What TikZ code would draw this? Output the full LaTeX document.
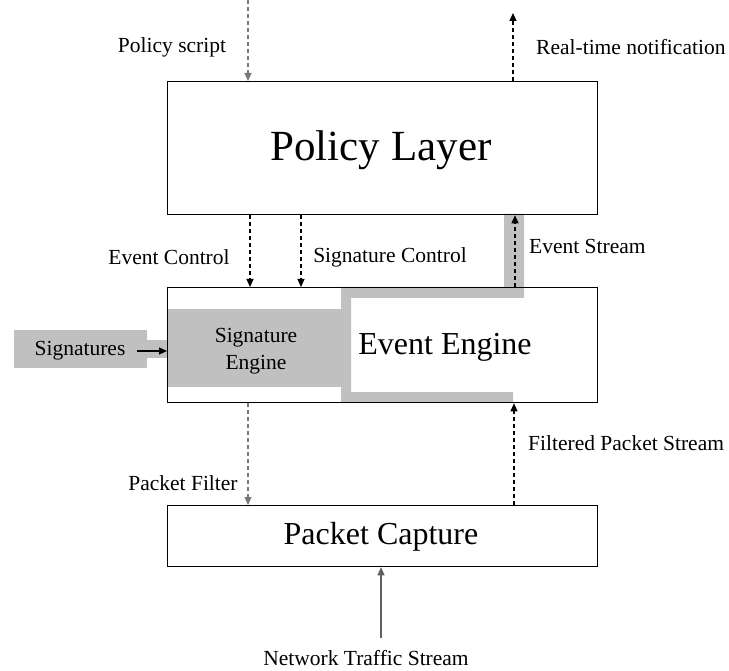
\documentclass[tikz,border=0pt]{standalone}
\usepackage{fontspec}
\setmainfont{Liberation Serif}
\usetikzlibrary{arrows.meta}
\definecolor{pipegray}{RGB}{192,192,192}
\definecolor{softline}{RGB}{120,120,120}
\tikzset{
  layerbox/.style={draw=black, line width=1.3pt, inner sep=0pt, anchor=north west},
  lbl/.style={font=\fontsize{21.5}{25}\selectfont, inner sep=0pt},
  bigtxt/.style={font=\fontsize{32}{38}\selectfont, inner sep=0pt},
  flow/.style={line width=1.2pt, dash pattern=on 4pt off 3pt, -{Triangle[length=8pt,width=7pt]}},
  softflow/.style={flow, draw=softline},
  solidflow/.style={line width=1.2pt, draw=softline!80!black, -{Triangle[length=8pt,width=7pt]}},
  pipe/.style={fill=pipegray, draw=none}
}
\begin{document}
\begin{tikzpicture}[x=1pt,y=-1pt]
\useasboundingbox (0,0) rectangle (729,671);

% grey data paths (drawn beneath the boxes)
\fill[pipe] (14,330) rectangle (147,368);
\fill[pipe] (147,340) rectangle (167,358);
\fill[pipe] (167,309) rectangle (351,387);
\fill[pipe] (504,214) -- (524,214) -- (524,298) -- (351,298) -- (351,392)
  -- (513,392) -- (513,402) -- (341,402) -- (341,287) -- (504,287) -- cycle;

% the three layers
\node[layerbox, minimum width=430pt, minimum height=133pt] (policy) at (167,81) {};
\node[layerbox, minimum width=430pt, minimum height=115pt] (engine) at (167,287) {};
\node[layerbox, minimum width=430pt, minimum height=61pt] (capture) at (167,505) {};

% texts inside the layers
\node[inner sep=0pt, font=\fontsize{43}{50}\selectfont] (policytxt) at (381,150) {Policy Layer};
\node[bigtxt] (eventeng) at (445,347) {Event Engine};
\node[lbl, align=center, font=\fontsize{21.5}{27}\selectfont] (sigeng) at (256,351) {Signature\\Engine};
\node[bigtxt] (capturetxt) at (381,537) {Packet Capture};
\node[lbl] (sigs) at (80,351) {Signatures};

% free ends of the connectors
\coordinate (scriptin) at (248,0);
\coordinate (notifyout) at (513,13);
\coordinate (evctl) at (250,0);
\coordinate (sigctl) at (301,0);
\coordinate (evstream) at (515,0);
\coordinate (pfilter) at (248,0);
\coordinate (fstream) at (514,0);
\coordinate (traffic) at (381,638);
\coordinate (sigsend) at (137,351);

% connectors
\draw[softflow] (scriptin) -- (scriptin |- policy.north);
\draw[flow] (notifyout |- policy.north) -- (notifyout);
\draw[flow] (evctl |- policy.south) -- (evctl |- engine.north);
\draw[flow] (sigctl |- policy.south) -- (sigctl |- engine.north);
\draw[flow] (evstream |- engine.north) -- (evstream |- policy.south);
\draw[softflow] (pfilter |- engine.south) -- (pfilter |- capture.north);
\draw[flow] (fstream |- capture.north) -- (fstream |- engine.south);
\draw[solidflow] (traffic) -- (traffic |- capture.south);
\draw[line width=1.2pt, -{Triangle[length=8pt,width=7pt]}] (sigsend) -- (sigsend -| engine.west);

% connector labels
\node[lbl] (lscript) at (172,47) {Policy script};
\node[lbl, anchor=west] (lnotify) at (536,47) {Real-time notification};
\node[lbl] (levctl) at (169,257) {Event Control};
\node[lbl] (lsigctl) at (390,257) {Signature Control};
\node[lbl, anchor=west] (levstream) at (529,246) {Event Stream};
\node[lbl] (lpfilter) at (183,483) {Packet Filter};
\node[lbl, anchor=west] (lfstream) at (528,443) {Filtered Packet Stream};
\node[lbl] (ltraffic) at (366,658) {Network Traffic Stream};
\end{tikzpicture}
\end{document}
